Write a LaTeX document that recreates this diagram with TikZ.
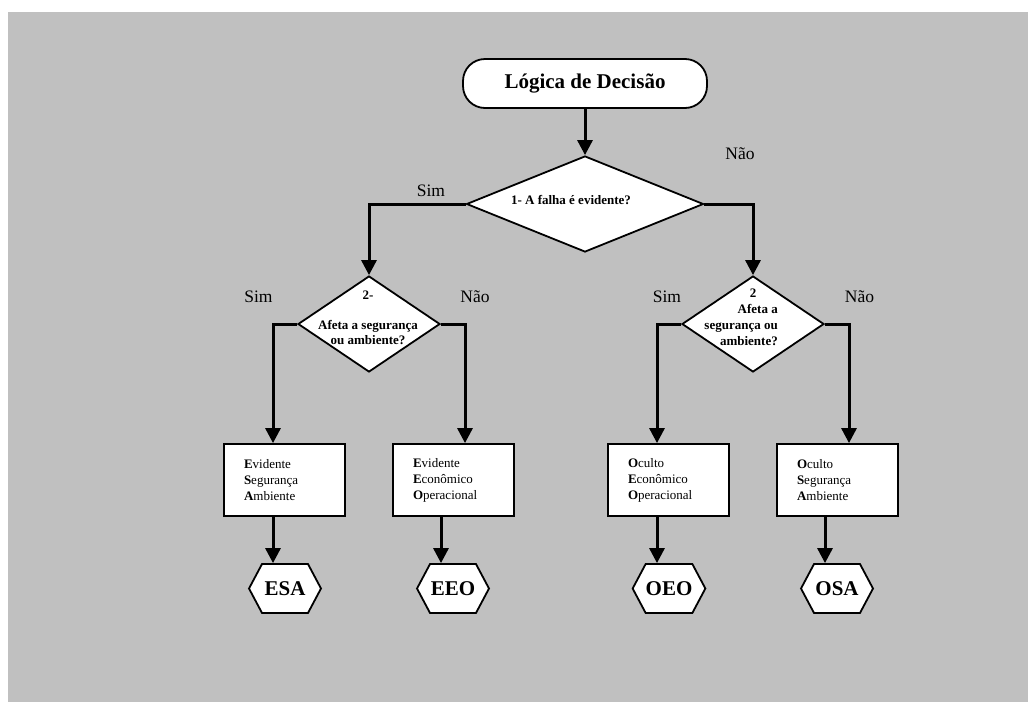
\documentclass[tikz,border=0pt]{standalone}
\usepackage{fontspec}
\setmainfont{Liberation Serif}
\usetikzlibrary{arrows.meta,shapes.geometric,shapes.symbols}
\definecolor{panel}{RGB}{192,192,192}
\begin{document}
\begin{tikzpicture}[x=1pt,y=-1pt,
  term/.style={draw, fill=white, line width=1.8pt, rounded corners=22pt,
    minimum width=244pt, minimum height=49pt, inner sep=0pt,
    font=\fontsize{21}{24}\selectfont\bfseries},
  decision/.style={diamond, draw, fill=white, line width=1.8pt, inner sep=0pt},
  qtext/.style={inner sep=0pt, font=\fontsize{13}{15.5}\selectfont\bfseries},
  leaf/.style={draw, fill=white, line width=1.8pt, minimum height=72pt,
    text width=81pt, inner xsep=20pt, inner ysep=0pt, align=left,
    font=\fontsize{13}{16}\selectfont},
  code/.style={signal, signal to=west and east, signal pointer angle=124,
    draw, fill=white, line width=1.8pt, minimum width=72pt, minimum height=49pt,
    inner sep=0pt, font=\fontsize{21}{24}\selectfont\bfseries},
  answer/.style={inner sep=0pt, font=\fontsize{17.5}{20}\selectfont},
  arr/.style={line width=3pt, -{Triangle[length=15pt,width=15pt]}}]

% page and grey panel
\path[fill=white] (0,0) rectangle (1028,702);
\path[fill=panel] (8,12) rectangle (1028,702);
\useasboundingbox (0,0) rectangle (1028,702);

% start
\node[term] (start) at (585,83.5) {Lógica de Decisão};

% first question
\node[decision, minimum width=237pt, minimum height=96pt] (q1) at (585,204) {};
\node[qtext] (q1t) at (571,200) {1- A falha é evidente?};

% second questions
\node[decision, minimum width=142pt, minimum height=96pt] (q2a) at (369,324) {};
\node[qtext] (q2an) at (368,295) {2-};
\node[qtext, align=center] (q2at) at (368,332.5) {Afeta a segurança\\ou ambiente?};

\node[decision, minimum width=142pt, minimum height=96pt] (q2b) at (753,324) {};
\node[qtext] (q2bn) at (753,293) {2};
\node[qtext, align=right, anchor=east, font=\fontsize{13}{16}\selectfont\bfseries]
  (q2bt) at (778,325) {Afeta a\\segurança ou\\ambiente?};

% answers
\node[answer] (s1) at (431,191) {Sim};
\node[answer] (n1) at (740,154) {Não};
\node[answer] (s2a) at (258.5,297) {Sim};
\node[answer] (n2a) at (475,297) {Não};
\node[answer] (s2b) at (667,297) {Sim};
\node[answer] (n2b) at (859.5,297) {Não};

% categories
\node[leaf] (b1) at (284.5,480) {\textbf{E}vidente\\\textbf{S}egurança\\\textbf{A}mbiente};
\node[leaf] (b2) at (453.5,480) {\textbf{E}vidente\\\textbf{E}conômico\\\textbf{O}peracional};
\node[leaf] (b3) at (668.5,480) {\textbf{O}culto\\\textbf{E}conômico\\\textbf{O}peracional};
\node[leaf] (b4) at (837.5,480) {\textbf{O}culto\\\textbf{S}egurança\\\textbf{A}mbiente};

% codes
\node[code] (h1) at (285,588.5) {ESA};
\node[code] (h2) at (453,588.5) {EEO};
\node[code] (h3) at (669,588.5) {OEO};
\node[code] (h4) at (837,588.5) {OSA};

% connectors
\draw[arr] (start.south) -- (q1.north);
\draw[arr] (q1.west) -| (q2a.north);
\draw[arr] (q1.east) -| (q2b.north);
\draw[arr] (q2a.west) -| ([xshift=-11.5pt]b1.north);
\draw[arr] (q2a.east) -| ([xshift=11.5pt]b2.north);
\draw[arr] (q2b.west) -| ([xshift=-11.5pt]b3.north);
\draw[arr] (q2b.east) -| ([xshift=11.5pt]b4.north);
\draw[arr] ([xshift=-11.5pt]b1.south) -- ([xshift=-11.5pt]b1.south |- h1.north);
\draw[arr] ([xshift=-12.5pt]b2.south) -- ([xshift=-12.5pt]b2.south |- h2.north);
\draw[arr] ([xshift=-11.5pt]b3.south) -- ([xshift=-11.5pt]b3.south |- h3.north);
\draw[arr] ([xshift=-12.5pt]b4.south) -- ([xshift=-12.5pt]b4.south |- h4.north);
\end{tikzpicture}
\end{document}
